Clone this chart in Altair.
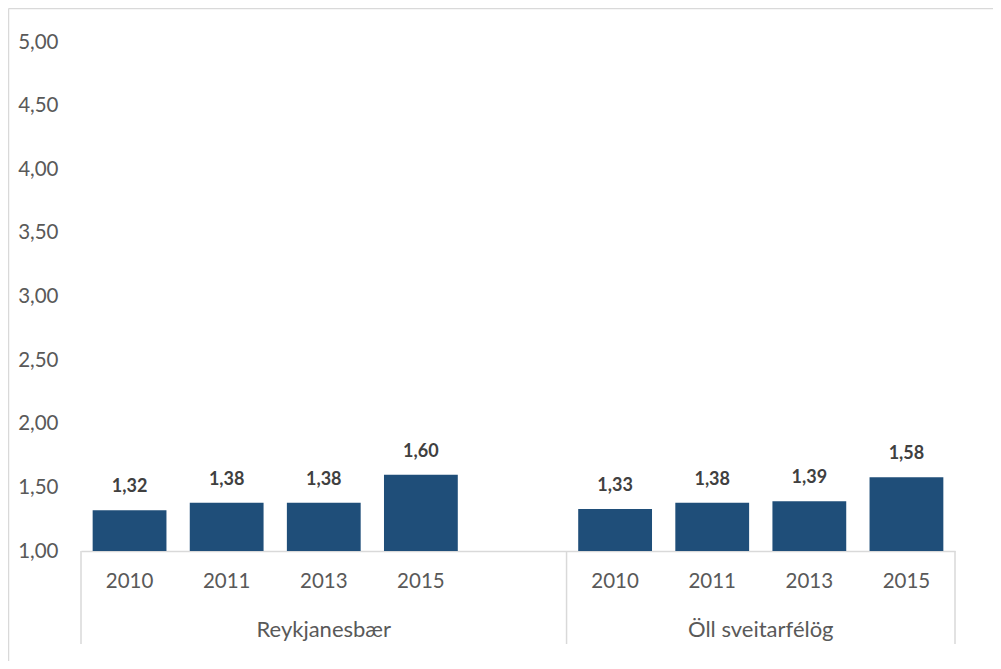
import altair as alt
import pandas as pd

# ---- data ----
groups = ["Reykjanesbær", "Öll sveitarfélög"]
years = ["2010", "2011", "2013", "2015"]
values_reykjanesbaer = [1.32, 1.38, 1.38, 1.60]
values_oll = [1.33, 1.38, 1.39, 1.58]
y_ticks = [1.0, 1.5, 2.0, 2.5, 3.0, 3.5, 4.0, 4.5, 5.0]

GAP = "gap"
cat_order = [f"{groups[0]}|{y}" for y in years] + [GAP] + [f"{groups[1]}|{y}" for y in years]

rows = []
for g, vals in zip(groups, [values_reykjanesbaer, values_oll]):
    for y, v in zip(years, vals):
        rows.append({"cat": f"{g}|{y}", "group": g, "year": y, "value": v})
df = pd.DataFrame(rows)

BAR = "#1F4E79"
AXIS_TXT = "#595959"
LBL_TXT = "#404040"
LINE = "#D9D9D9"
FONT = "Lato"

W, H = 874, 509

xscale = alt.Scale(domain=cat_order, paddingInner=0, paddingOuter=0)
yscale = alt.Scale(domain=[1, 5], zero=False, nice=False)

x_axis = alt.Axis(
    title=None,
    labelExpr="indexof(datum.label, '|') >= 0 ? split(datum.label, '|')[1] : ''",
    labelAngle=0,
    labelFont=FONT,
    labelFontSize=20.5,
    labelColor=AXIS_TXT,
    labelPadding=20,
    ticks=False,
    tickSize=0,
    domainColor=LINE,
    domainWidth=1.5,
    grid=False,
)
y_axis = alt.Axis(
    title=None,
    values=y_ticks,
    labelExpr="replace(format(datum.value, '.2f'), '.', ',')",
    labelFont=FONT,
    labelFontSize=20.5,
    labelColor=AXIS_TXT,
    labelPadding=23,
    ticks=False,
    tickSize=0,
    domain=False,
    grid=False,
)


def X(bp=None):
    kw = dict(scale=xscale, sort=cat_order, axis=x_axis)
    if bp is not None:
        kw["bandPosition"] = bp
    return alt.X("cat:N", **kw)


def Y():
    return alt.Y("value:Q", scale=yscale, axis=y_axis)


base = alt.Chart(df)

bars = base.mark_bar(color=BAR, width=alt.RelativeBandSize(0.76)).encode(
    x=X(),
    y=Y(),
    y2=alt.datum(1),
)

labels = base.transform_calculate(
    lbl="replace(format(datum.value, '.2f'), '.', ',')"
).mark_text(
    font=FONT, fontSize=18, fontWeight="bold", color=LBL_TXT, baseline="alphabetic", dy=-18
).encode(
    x=X(),
    y=Y(),
    text="lbl:N",
)

# group separators (category boundaries of the multi-level axis)
sep_df = pd.DataFrame({"cat": [cat_order[0], f"{groups[1]}|{years[0]}"]})
sep_start = alt.Chart(sep_df).mark_rule(color=LINE, strokeWidth=1.5).encode(
    x=X(0),
    y=alt.value(H),
    y2=alt.value(H + 93),
)
sep_end_df = pd.DataFrame({"cat": [cat_order[-1]]})
sep_end = alt.Chart(sep_end_df).mark_rule(color=LINE, strokeWidth=1.5).encode(
    x=X(1),
    y=alt.value(H),
    y2=alt.value(H + 93),
)

# group labels
g1_df = pd.DataFrame({"cat": [f"{groups[0]}|{years[2]}"], "group": [groups[0]]})
g2_df = pd.DataFrame({"cat": [f"{groups[1]}|{years[2]}"], "group": [groups[1]]})
g1 = alt.Chart(g1_df).mark_text(font=FONT, fontSize=22, color=AXIS_TXT, baseline="middle").encode(
    x=X(0.5),
    y=alt.value(H + 79),
    text="group:N",
)
g2 = alt.Chart(g2_df).mark_text(font=FONT, fontSize=22, color=AXIS_TXT, baseline="middle").encode(
    x=X(0),
    y=alt.value(H + 79),
    text="group:N",
)

# outer chart-area border (top and left edges visible in the reference)
border_df = pd.DataFrame({"k": [0]})
border_top = alt.Chart(border_df).mark_rule(color=LINE, strokeWidth=1.5).encode(
    x=alt.value(-72.5), x2=alt.value(W + 40), y=alt.value(-33.5)
)
border_left = alt.Chart(border_df).mark_rule(color=LINE, strokeWidth=1.5).encode(
    x=alt.value(-72.5), y=alt.value(-33.5), y2=alt.value(H + 112)
)

chart = alt.layer(
    border_top, border_left, sep_start, sep_end, bars, labels, g1, g2
).properties(
    width=W,
    height=H,
    background="white",
    autosize=alt.AutoSizeParams(type="none"),
    padding={"left": 73, "top": 34, "right": 38, "bottom": 110},
).configure_view(
    stroke=None
)

chart.save("out.html", embed_options={"renderer": "svg", "actions": False})
